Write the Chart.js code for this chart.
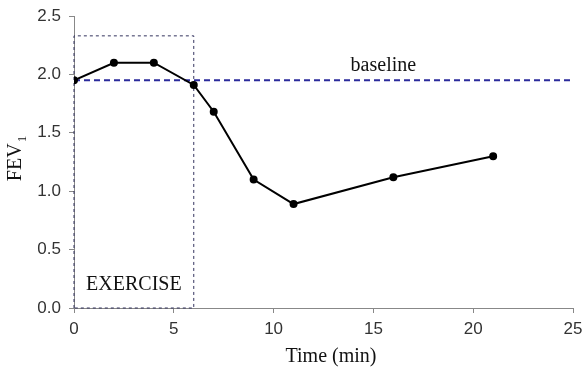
<!DOCTYPE html>
<html>
<head>
<meta charset="utf-8">
<script src="https://cdn.jsdelivr.net/npm/chart.js@4.4.0/dist/chart.umd.min.js"></script>
<style>
  html, body { margin: 0; padding: 0; background: #fff; }
  #wrap { width: 583px; height: 367px; position: relative; }
</style>
</head>
<body>
<div id="wrap"><canvas id="fevChart"></canvas></div>
<script>
// data
const timeMin = [0, 2, 4, 6, 7, 9, 11, 16, 21];
const fev1 = [1.95, 2.1, 2.1, 1.91, 1.68, 1.10, 0.89, 1.12, 1.30];
const baselineX = [0, 25];
const baselineY = [1.95, 1.95];
const exerciseBoxX = [0, 0, 6, 6, 0];
const exerciseBoxY = [0, 2.33, 2.33, 0, 0];
const xTicks = [0, 5, 10, 15, 20, 25];
const yTicks = [0.0, 0.5, 1.0, 1.5, 2.0, 2.5];

const toPts = (xs, ys) => xs.map((x, i) => ({ x: x, y: ys[i] }));
const serif = '"Liberation Serif", "Times New Roman", serif';

// text labels drawn on the chart
const annotations = {
    id: 'annotations',
    afterDraw(chart) {
        const { ctx, scales: { x, y } } = chart;
        ctx.save();
        ctx.fillStyle = '#111';
        ctx.font = '20px ' + serif;
        ctx.textAlign = 'center';
        ctx.textBaseline = 'middle';
        ctx.fillText('baseline', x.getPixelForValue(15.5), y.getPixelForValue(2.07));
        ctx.fillText('EXERCISE', x.getPixelForValue(3.0), y.getPixelForValue(0.2));

        // x title
        ctx.fillText('Time (min)', 331, 357);

        // y title with subscript
        ctx.translate(16, 159);
        ctx.rotate(-Math.PI / 2);
        ctx.textAlign = 'left';
        const main = 'FEV';
        const w = ctx.measureText(main).width;
        ctx.font = '13px ' + serif;
        const sw = ctx.measureText('1').width;
        const start = -(w + sw) / 2;
        ctx.font = '20px ' + serif;
        ctx.fillText(main, start, 0);
        ctx.font = '13px ' + serif;
        ctx.fillText('1', start + w + 1, 7);
        ctx.restore();
    }
};

const axisColor = '#888';
const tickFont = { family: '"Liberation Sans", Arial, sans-serif', size: 17 };

new Chart(document.getElementById('fevChart'), {
    type: 'line',
    data: {
        datasets: [{
            label: 'FEV1',
            data: toPts(timeMin, fev1),
            borderColor: '#000',
            backgroundColor: '#000',
            borderWidth: 2,
            pointRadius: 3,
            pointHoverRadius: 3,
            tension: 0,
            order: 0
        }, {
            label: 'baseline',
            data: toPts(baselineX, baselineY),
            borderColor: '#2b2b9c',
            borderWidth: 2,
            borderDash: [6, 4],
            pointRadius: 0,
            order: 1
        }, {
            label: 'exercise',
            data: toPts(exerciseBoxX, exerciseBoxY),
            borderColor: '#33335e',
            borderWidth: 1,
            borderDash: [3, 3],
            pointRadius: 0,
            clip: false,
            order: 2
        }]
    },
    options: {
        responsive: true,
        maintainAspectRatio: false,
        animation: false,
        layout: { padding: { left: 0, right: 10, top: 16, bottom: 0 } },
        plugins: {
            legend: { display: false },
            tooltip: { enabled: false }
        },
        scales: {
            x: {
                type: 'linear',
                min: 0,
                max: 25,
                afterBuildTicks: s => { s.ticks = xTicks.map(v => ({ value: v })); },
                afterFit: s => { s.height = 59; s.paddingLeft = 0; s.paddingRight = 0; },
                ticks: { color: '#333', font: tickFont, padding: 6 },
                grid: { drawOnChartArea: false, drawTicks: true, tickLength: 5, color: axisColor },
                border: { color: axisColor, width: 1 }
            },
            y: {
                min: 0,
                max: 2.5,
                afterBuildTicks: s => { s.ticks = yTicks.map(v => ({ value: v })); },
                afterFit: s => { s.width = 74; s.paddingTop = 0; s.paddingBottom = 0; },
                ticks: { color: '#333', font: tickFont, padding: 8, callback: v => v.toFixed(1) },
                grid: { drawOnChartArea: false, drawTicks: true, tickLength: 5, color: axisColor },
                border: { color: axisColor, width: 1 }
            }
        }
    },
    plugins: [annotations]
});
</script>
</body>
</html>
